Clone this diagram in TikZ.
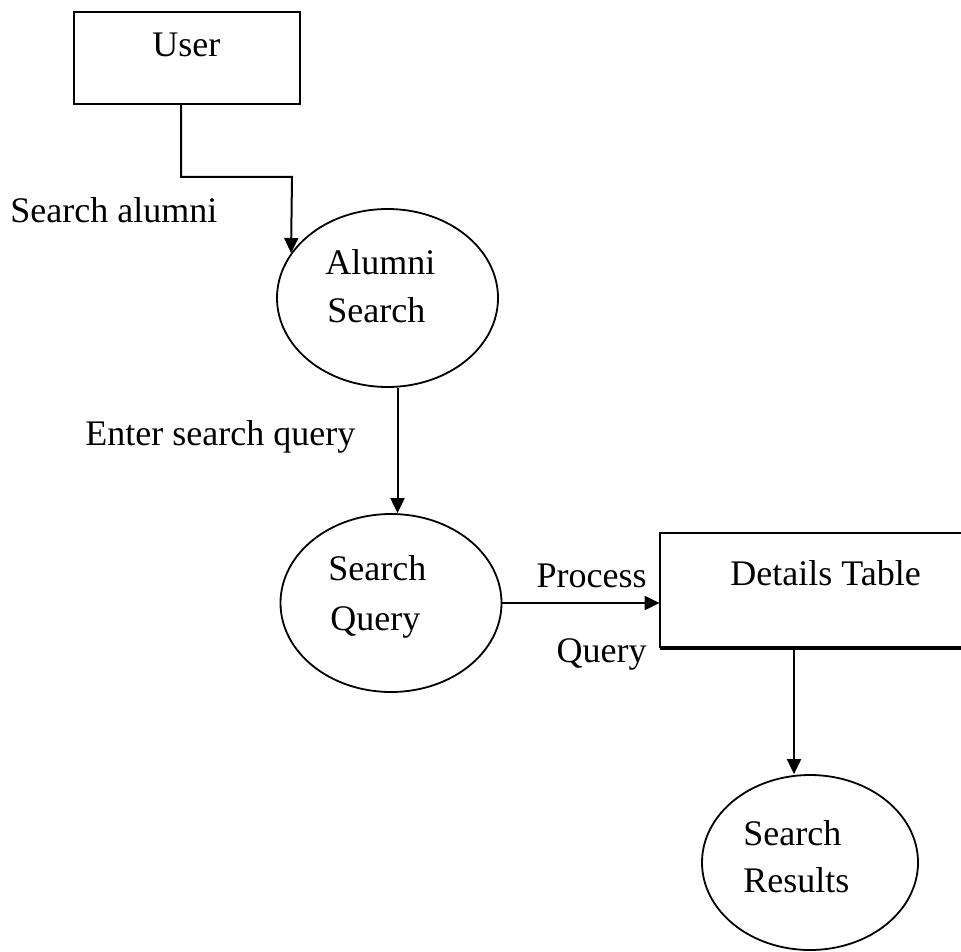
\documentclass[tikz,border=0pt]{standalone}
\usepackage{fontspec}
\setmainfont{Liberation Serif}
\usetikzlibrary{arrows.meta,shapes.geometric}
\begin{document}
\begin{tikzpicture}[x=0.5pt,y=-0.5pt,
  every node/.style={font=\fontsize{18}{22}\selectfont},
  txt/.style={inner sep=0pt,anchor=base west},
  entity/.style={draw,rectangle,line width=1pt,inner sep=0pt},
  proc/.style={draw,ellipse,line width=0.9pt,inner sep=0pt,
    minimum width=110.5pt,minimum height=89pt},
  flow/.style={line width=1pt,-{Triangle[length=7.5pt,width=7pt]}}]
\useasboundingbox (0,0) rectangle (961,951);

% external entity
\node[entity,minimum width=113pt,minimum height=46pt] (user) at (187,58) {};
\node[txt] (userT) at (152,57) {User};

% processes
\node[proc] (alumni) at (387.5,298) {};
\node[txt] (alumniA) at (325,275) {Alumni};
\node[txt] (alumniB) at (327,322) {Search};

\node[proc] (sq) at (391,603) {};
\node[txt] (sqA) at (328,580) {Search};
\node[txt] (sqB) at (330,630) {Query};

\node[proc,minimum width=108pt,minimum height=87.5pt] (results) at (810,862.5) {};
\node[txt] (resultsA) at (743,845) {Search};
\node[txt] (resultsB) at (743,892) {Results};

% data store, open on the right
\node[minimum width=157.5pt,minimum height=57.5pt,inner sep=0pt] (details) at (817.5,590.5) {};
\draw[line width=1pt] (details.north east) -- (details.north west) -- (details.south west);
\draw[line width=2pt] (details.south west) -- (details.south east);
\node[txt] (detailsT) at (730,585) {Details Table};

% flows
\coordinate (bend) at (292,177);
\draw[flow] ([xshift=-3pt]user.south) |- (bend) -- (alumni.155);
\node[txt] (l1) at (10,223) {Search alumni};

\coordinate (qx) at (397.5,0);
\draw[flow] (alumni.south -| qx) -- (sq.north -| qx);
\node[txt] (l2) at (85,445) {Enter search query};

\draw[flow] (sq.east) -- (sq.east -| details.west);
\node[txt,anchor=base east] (l3) at (647,587) {Process};
\node[txt,anchor=base east] (l4) at (647,662) {Query};

\coordinate (rx) at (794,0);
\draw[flow] (details.south -| rx) -- (results.north -| rx);
\end{tikzpicture}
\end{document}
